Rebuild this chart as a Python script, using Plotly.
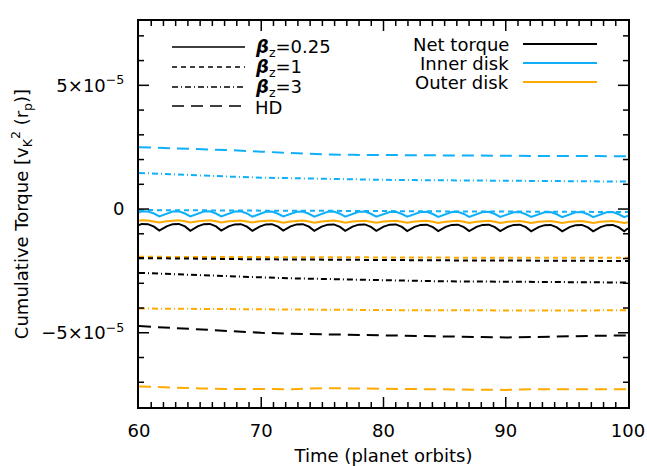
import plotly.graph_objects as go

# ---------------- data (torque values in units of 1e-5) ----------------
# wavy beta_z = 0.25 series
x_wave = [60.0, 60.23, 60.73, 61.23,
          61.66, 62.26, 62.76, 63.26, 63.76,
          64.20, 64.80, 65.30, 65.80, 66.30,
          66.73, 67.33, 67.83, 68.33, 68.83,
          69.27, 69.87, 70.37, 70.87, 71.37,
          71.80, 72.40, 72.90, 73.40, 73.90,
          74.34, 74.94, 75.44, 75.94, 76.44,
          76.87, 77.47, 77.97, 78.47, 78.97,
          79.41, 80.01, 80.51, 81.01, 81.51,
          81.94, 82.54, 83.04, 83.54, 84.04,
          84.48, 85.08, 85.58, 86.08, 86.58,
          87.01, 87.61, 88.11, 88.61, 89.11,
          89.55, 90.15, 90.65, 91.15, 91.65,
          92.08, 92.68, 93.18, 93.68, 94.18,
          94.62, 95.22, 95.72, 96.22, 96.72,
          97.15, 97.75, 98.25, 98.75, 99.25,
          99.69, 100.0]

net_b025 = [-0.65, -0.60, -0.61, -0.71,
            -0.87, -0.70, -0.61, -0.60, -0.70,
            -0.88, -0.70, -0.61, -0.60, -0.70,
            -0.87, -0.70, -0.62, -0.61, -0.71,
            -0.88, -0.71, -0.62, -0.61, -0.71,
            -0.87, -0.70, -0.62, -0.61, -0.71,
            -0.88, -0.71, -0.63, -0.62, -0.72,
            -0.88, -0.71, -0.63, -0.62, -0.72,
            -0.88, -0.71, -0.63, -0.62, -0.72,
            -0.89, -0.72, -0.64, -0.63, -0.73,
            -0.89, -0.72, -0.64, -0.63, -0.73,
            -0.89, -0.72, -0.64, -0.63, -0.73,
            -0.89, -0.72, -0.64, -0.63, -0.73,
            -0.90, -0.73, -0.65, -0.64, -0.74,
            -0.90, -0.73, -0.65, -0.64, -0.74,
            -0.90, -0.73, -0.65, -0.64, -0.74,
            -0.90, -0.78]

inner_b025 = [-0.14, -0.09, -0.10, -0.18,
              -0.30, -0.18, -0.10, -0.09, -0.18,
              -0.30, -0.18, -0.10, -0.09, -0.18,
              -0.30, -0.18, -0.10, -0.09, -0.18,
              -0.31, -0.19, -0.11, -0.10, -0.19,
              -0.30, -0.18, -0.11, -0.10, -0.19,
              -0.31, -0.19, -0.11, -0.10, -0.19,
              -0.31, -0.19, -0.11, -0.10, -0.19,
              -0.31, -0.19, -0.12, -0.11, -0.20,
              -0.31, -0.19, -0.12, -0.11, -0.20,
              -0.32, -0.20, -0.12, -0.11, -0.20,
              -0.32, -0.20, -0.12, -0.11, -0.20,
              -0.32, -0.20, -0.13, -0.12, -0.21,
              -0.32, -0.20, -0.13, -0.12, -0.21,
              -0.33, -0.21, -0.13, -0.12, -0.21,
              -0.33, -0.21, -0.13, -0.12, -0.21,
              -0.33, -0.27]

outer_b025 = [-0.47, -0.45, -0.46, -0.50,
              -0.54, -0.49, -0.46, -0.45, -0.49,
              -0.54, -0.49, -0.46, -0.45, -0.49,
              -0.54, -0.49, -0.47, -0.46, -0.50,
              -0.54, -0.49, -0.47, -0.46, -0.50,
              -0.55, -0.50, -0.47, -0.46, -0.50,
              -0.55, -0.50, -0.47, -0.46, -0.50,
              -0.55, -0.50, -0.48, -0.47, -0.51,
              -0.55, -0.50, -0.48, -0.47, -0.51,
              -0.55, -0.50, -0.48, -0.47, -0.51,
              -0.56, -0.51, -0.48, -0.47, -0.51,
              -0.56, -0.51, -0.48, -0.47, -0.51,
              -0.56, -0.51, -0.49, -0.48, -0.52,
              -0.56, -0.51, -0.49, -0.48, -0.52,
              -0.56, -0.51, -0.49, -0.48, -0.52,
              -0.56, -0.51, -0.49, -0.48, -0.52,
              -0.56, -0.53]

# smooth series
x_s = [60, 62.5, 65, 67.5, 70, 72.5, 75, 77.5, 80, 82.5, 85, 87.5, 90, 92.5, 95, 97.5, 100]

inner_b1 = [-0.04, -0.05, -0.05, -0.06, -0.06, -0.07, -0.07, -0.08, -0.08,
            -0.09, -0.09, -0.10, -0.10, -0.11, -0.11, -0.12, -0.12]
outer_b1 = [-1.93, -1.93, -1.94, -1.94, -1.95, -1.95, -1.95, -1.96, -1.96,
            -1.96, -1.96, -1.97, -1.97, -1.97, -1.97, -1.97, -1.97]
net_b1 = [-1.98, -2.00, -2.01, -2.02, -2.03, -2.04, -2.05, -2.06, -2.06,
          -2.07, -2.07, -2.08, -2.08, -2.09, -2.09, -2.10, -2.10]

inner_b3 = [1.46, 1.40, 1.35, 1.31, 1.27, 1.24, 1.22, 1.20, 1.18,
            1.17, 1.16, 1.15, 1.14, 1.13, 1.12, 1.12, 1.11]
outer_b3 = [-4.02, -4.03, -4.03, -4.04, -4.05, -4.06, -4.07, -4.08, -4.08,
            -4.09, -4.09, -4.10, -4.10, -4.10, -4.10, -4.09, -4.09]
net_b3 = [-2.58, -2.63, -2.68, -2.72, -2.76, -2.80, -2.83, -2.86, -2.88,
          -2.90, -2.92, -2.93, -2.94, -2.95, -2.96, -2.97, -2.97]

inner_hd = [2.50, 2.47, 2.43, 2.38, 2.32, 2.25, 2.21, 2.19, 2.18,
            2.17, 2.16, 2.15, 2.15, 2.14, 2.14, 2.14, 2.13]
outer_hd = [-7.17, -7.22, -7.25, -7.27, -7.29, -7.28, -7.24, -7.25, -7.28,
            -7.29, -7.29, -7.31, -7.31, -7.28, -7.27, -7.29, -7.28]
net_hd = [-4.73, -4.80, -4.86, -4.93, -5.00, -5.04, -5.06, -5.08, -5.10,
          -5.12, -5.15, -5.18, -5.19, -5.17, -5.14, -5.12, -5.11]

# axis ticks
y_tickvals = [-5, 0, 5]
y_ticktext = ["\u22125\u00d710<sup>\u22125</sup>", "0", "5\u00d710<sup>\u22125</sup>"]
y_minor = [-7, -6, -4, -3, -2, -1, 1, 2, 3, 4, 6, 7]
x_tickvals = [60, 70, 80, 90, 100]
x_ticktext = ["60", "70", "80", "90", "100"]
x_minor = [v for v in range(61, 100) if v % 10 != 0]

style_labels = ["<b><i>\u03b2</i></b><sub>z</sub>=0.25", "<b><i>\u03b2</i></b><sub>z</sub>=1",
                "<b><i>\u03b2</i></b><sub>z</sub>=3", "HD"]
comp_labels = ["Net torque", "Inner disk", "Outer disk"]

# ---------------- styles ----------------
BLACK = "#000000"
BLUE = "#10B0F8"
ORANGE = "#FFAA00"
DASHES = {"solid": "solid", "b1": "5px,4px", "b3": "6px,3px,1px,3px", "hd": "12px,7px"}
FONT = "DejaVu Sans"

fig = go.Figure()

def add(x, y, color, dash):
    fig.add_trace(go.Scatter(x=x, y=y, mode="lines", showlegend=False, hoverinfo="skip",
                             line=dict(color=color, width=2, dash=dash)))

add(x_s, outer_hd, ORANGE, DASHES["hd"])
add(x_s, net_hd, BLACK, DASHES["hd"])
add(x_s, inner_hd, BLUE, DASHES["hd"])
add(x_s, outer_b3, ORANGE, DASHES["b3"])
add(x_s, net_b3, BLACK, DASHES["b3"])
add(x_s, inner_b3, BLUE, DASHES["b3"])
add(x_s, outer_b1, ORANGE, DASHES["b1"])
add(x_s, net_b1, BLACK, DASHES["b1"])
add(x_s, inner_b1, BLUE, DASHES["b1"])
add(x_wave, outer_b025, ORANGE, "solid")
add(x_wave, inner_b025, BLUE, "solid")
add(x_wave, net_b025, BLACK, "solid")

# ---------------- layout geometry ----------------
W, H = 647, 466
L, R, T, B = 139, 19, 21, 59
pw, ph = W - L - R, H - T - B
MAJ, MIN = 10, 5

def px(x):
    return (x - L) / pw

def py(y):
    return (H - B - y) / ph

shapes = []
annots = []

# inward ticks on all four sides (IDL style)
def xtick(v, n):
    for y0, y1 in [(0, n / ph), (1, 1 - n / ph)]:
        shapes.append(dict(type="line", xref="x", yref="y domain", x0=v, x1=v, y0=y0, y1=y1,
                           line=dict(color=BLACK, width=1.5), layer="above"))

def ytick(v, n):
    for x0, x1 in [(0, n / pw), (1, 1 - n / pw)]:
        shapes.append(dict(type="line", xref="x domain", yref="y", x0=x0, x1=x1, y0=v, y1=v,
                           line=dict(color=BLACK, width=1.5), layer="above"))

for v in x_tickvals[1:-1]:
    xtick(v, MAJ)
for v in x_minor:
    xtick(v, MIN)
for v in y_tickvals:
    ytick(v, MAJ)
for v in y_minor:
    ytick(v, MIN)

# legends (drawn as decorations)
left_rows = [47, 67, 87, 106]
left_dash = [DASHES["solid"], DASHES["b1"], DASHES["b3"], DASHES["hd"]]
for yy, d, lab in zip(left_rows, left_dash, style_labels):
    shapes.append(dict(type="line", xref="paper", yref="paper", x0=px(172), x1=px(245),
                       y0=py(yy), y1=py(yy), line=dict(color=BLACK, width=1.5, dash=d)))
    annots.append(dict(xref="paper", yref="paper", x=px(253), y=py(yy + 1), text=lab,
                       showarrow=False, xanchor="left", yanchor="middle",
                       font=dict(family=FONT, size=18, color=BLACK)))

right_rows = [44, 63, 82]
for yy, c, lab in zip(right_rows, [BLACK, BLUE, ORANGE], comp_labels):
    shapes.append(dict(type="line", xref="paper", yref="paper", x0=px(523), x1=px(597),
                       y0=py(yy), y1=py(yy), line=dict(color=c, width=2)))
    annots.append(dict(xref="paper", yref="paper", x=px(511), y=py(yy), text=lab,
                       showarrow=False, xanchor="right", yanchor="middle",
                       font=dict(family=FONT, size=18, color=BLACK)))

axis_common = dict(showgrid=False, zeroline=False, showline=True, linecolor=BLACK, linewidth=2,
                   mirror=True, ticks="", tickmode="array", automargin=False,
                   tickfont=dict(family=FONT, size=18, color=BLACK))

fig.update_layout(
    template="none",
    width=W, height=H,
    margin=dict(l=L, r=R, t=T, b=B, autoexpand=False),
    paper_bgcolor="white", plot_bgcolor="white",
    showlegend=False,
    shapes=shapes, annotations=annots,
    xaxis=dict(range=[60, 100], tickvals=x_tickvals, ticktext=x_ticktext,
               ticklabelstandoff=6,
               title=dict(text="Time (planet orbits)", font=dict(family=FONT, size=18, color=BLACK),
                          standoff=14),
               **axis_common),
    yaxis=dict(range=[-8.0, 7.6], tickvals=y_tickvals, ticktext=y_ticktext,
               ticklabelstandoff=9,
               title=dict(text="Cumulative Torque [v<sub>K</sub><sup>2</sup> (r<sub>p</sub>)]",
                          font=dict(family=FONT, size=18, color=BLACK), standoff=8),
               **axis_common),
)

fig.write_html("out.html")
